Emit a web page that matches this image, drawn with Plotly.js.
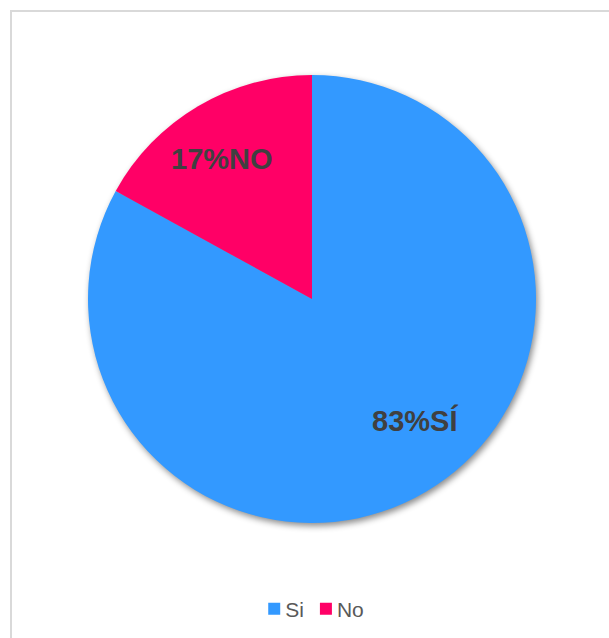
<!DOCTYPE html>
<html>
<head>
<meta charset="utf-8">
<script src="https://cdn.plot.ly/plotly-3.0.1.min.js"></script>
<style>
  html, body { margin: 0; padding: 0; background: #fff; }
  #wrap { position: relative; width: 609px; height: 638px; overflow: hidden; }
  #frame { position: absolute; left: 10px; top: 10px; width: 620px; height: 650px; border: 2px solid #D9D9D9; box-sizing: border-box; pointer-events: none; }
  #chart { position: absolute; left: 0; top: 0; width: 609px; height: 638px; }
  .pielayer .trace { filter: drop-shadow(2px 3px 3px rgba(0,0,0,0.45)); }
</style>
</head>
<body>
<div id="wrap">
  <div id="chart"></div>
  <div id="frame"></div>
</div>
<script>
const categories = ["Si", "No"];
const values = [83, 17];
const sliceLabels = ["83%SÍ", "17%NO"];
const colors = ["#3399FF", "#FF0066"];

// layout / style constants
const W = 609, H = 638;
const pieLeft = 88, pieRight = 536, pieTop = 75, pieBottom = 523;
const labelRadiusFrac = 0.7;
const labelNudge = [[23, 13], [-10, 5]]; // px nudges (x right, y up) per label
const labelFont = { family: "Liberation Sans, Arial, sans-serif", size: 29, color: "#404040", weight: "bold" };

const cxPx = (pieLeft + pieRight) / 2, cyPx = (pieTop + pieBottom) / 2;
const rPx = (pieRight - pieLeft) / 2;

const total = values.reduce((a, b) => a + b, 0);
let cum = 0;
const annotations = values.map((v, i) => {
  const mid = (cum + v / 2) / total;
  cum += v;
  const th = 2 * Math.PI * mid; // clockwise from top
  const px = cxPx + labelRadiusFrac * rPx * Math.sin(th);
  const py = cyPx - labelRadiusFrac * rPx * Math.cos(th);
  return {
    x: px / W, y: 1 - py / H, xref: "paper", yref: "paper",
    text: sliceLabels[i], showarrow: false,
    xanchor: "center", yanchor: "middle",
    xshift: labelNudge[i][0], yshift: labelNudge[i][1],
    font: labelFont
  };
});

const trace = {
  type: "pie",
  labels: categories,
  values: values,
  textinfo: "none",
  sort: false,
  direction: "clockwise",
  rotation: 0,
  marker: { colors: colors, line: { width: 0 } },
  domain: { x: [pieLeft / W, pieRight / W], y: [1 - pieBottom / H, 1 - pieTop / H] },
  hoverinfo: "none"
};

const layout = {
  width: W,
  height: H,
  margin: { l: 0, r: 0, t: 0, b: 0 },
  paper_bgcolor: "rgba(0,0,0,0)",
  plot_bgcolor: "rgba(0,0,0,0)",
  showlegend: true,
  annotations: annotations,
  legend: {
    orientation: "h",
    x: 0.518, xanchor: "center",
    y: 1 - 609 / H, yanchor: "middle",
    font: { family: "Liberation Sans, Arial, sans-serif", size: 21, color: "#595959" },
    itemwidth: 30,
    itemclick: false
  }
};

Plotly.newPlot("chart", [trace], layout, { staticPlot: true, displayModeBar: false }).then(gd => {
  // tighten legend: small gap between swatch and text, centred group
  const legendCenter = 316, symGap = 5, itemGap = 16;
  const items = [...gd.querySelectorAll(".legend .traces")];
  const info = items.map(it => {
    const sym = it.querySelector(".legendpoints path");
    const txt = it.querySelector(".legendtext");
    const sr = sym.getBoundingClientRect();
    const tr = txt.getBoundingClientRect();
    const x0 = parseFloat(txt.getAttribute("x")) || 0;
    txt.setAttribute("x", x0 + (sr.right + symGap - tr.left));
    return { it, symLeft: sr.left, width: (sr.right - sr.left) + symGap + tr.width };
  });
  const totalW = info.reduce((a, b) => a + b.width, 0) + itemGap * (info.length - 1);
  const base = gd.getBoundingClientRect().left;
  let pos = legendCenter - totalW / 2;
  info.forEach(o => {
    const delta = (base + pos) - o.symLeft;
    const t = o.it.getAttribute("transform") || "translate(0,0)";
    const m = t.match(/translate\(\s*([-\d.e]+)[ ,]+([-\d.e]+)\s*\)/);
    const tx = m ? parseFloat(m[1]) : 0, ty = m ? parseFloat(m[2]) : 0;
    o.it.setAttribute("transform", `translate(${tx + delta},${ty})`);
    pos += o.width + itemGap;
  });
});
</script>
</body>
</html>
